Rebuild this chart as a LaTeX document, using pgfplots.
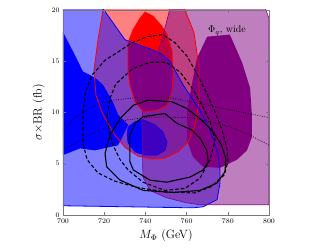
\documentclass[border=0pt]{standalone}
\usepackage{pgfplots}
\usepackage{pgfplotstable}
\pgfplotsset{compat=1.18}
\definecolor{lred}{RGB}{255,128,128}
\definecolor{pur}{RGB}{128,0,128}
\definecolor{frame}{RGB}{120,120,120}

% ---- regions ----
\pgfplotstableread{
x y
719.9 20.6
717.0 17.1
715.0 14.1
716.0 11.7
719.4 9.8
725.2 7.8
730.1 6.6
736.4 5.75
743.2 5.45
749.5 5.55
755.8 6.15
760.7 7.1
764.1 8.8
766.0 11.0
766.0 14.4
763.6 17.8
759.2 20.0
758.5 20.6
}\redouter
\pgfplotstableread{
x y
735.0 11.0
732.5 12.7
731.6 14.0
731.6 16.8
734.0 18.05
737.4 19.2
739.8 19.8
743.7 19.4
748.0 18.4
750.5 17.6
752.9 16.0
753.4 13.7
752.9 12.0
750.5 10.7
745.6 10.2
738.8 10.1
}\redinner
\pgfplotstableread{
x y
699.0 21.0
716.4 21.0
719.9 20.0
730.1 17.1
743.7 16.1
748.5 15.6
751.9 15.0
758.3 12.7
766.5 10.2
771.4 8.3
775.2 6.05
776.2 4.4
776.2 3.1
774.8 1.5
768.0 0.8
763.1 0.7
700.0 0.9
699.0 0.9
}\blueouter
\pgfplotstableread{
x y
699.0 17.85
700.0 17.85
705.0 15.9
709.7 14.0
715.5 13.4
719.4 12.7
724.3 11.0
726.7 9.8
731.6 8.8
728.6 7.5
726.7 6.8
721.8 6.6
715.5 6.3
708.3 6.5
700.0 5.85
699.0 5.85
}\blueinner
\pgfplotstableread{
x y
731.6 8.6
735.0 9.1
738.8 9.3
744.7 8.8
748.5 8.1
750.5 7.1
749.5 6.3
745.6 5.85
739.8 5.85
735.0 6.15
731.6 7.0
731.1 7.8
}\blueisland
\pgfplotstableread{
x y
752.5 20.6
748.0 17.1
743.2 14.1
739.8 11.7
738.3 9.5
738.8 3.7
742.2 2.4
750.0 1.7
759.7 1.2
766.5 1.0
800.0 1.0
800.0 19.2
798.5 20.0
798.0 20.6
}\purouter
\pgfplotstableread{
x y
760.2 7.3
760.2 10.2
765.0 15.3
770.0 17.4
781.0 17.6
786.9 14.9
790.8 12.4
791.7 9.8
791.7 7.6
789.3 6.3
784.5 5.4
776.2 4.6
768.0 4.7
763.0 5.7
}\purinner
% ---- contours ----
\pgfplotstableread{
x y
741.4 11.2
752.8 11.05
760.0 10.4
766.5 9.4
773.0 8.1
777.0 6.8
779.1 5.5
778.6 4.2
774.6 3.1
766.5 2.4
753.5 2.2
739.0 2.4
727.7 3.4
721.2 4.7
720.4 6.0
722.8 7.8
727.7 9.4
734.1 10.7
}\solidA
\pgfplotstableread{
x y
739.0 9.6
749.5 9.9
755.2 8.95
762.5 8.3
766.5 7.5
769.8 6.3
770.5 5.2
768.1 4.4
761.7 3.7
750.3 3.2
742.2 3.4
734.1 4.4
732.5 5.2
732.5 7.8
735.0 8.95
}\solidB
\pgfplotstableread{
x y
709.7 9.95
711.2 12.2
714.1 13.65
720.4 15.1
726.7 15.9
733.5 16.8
740.8 17.4
748.5 17.6
754.4 16.8
760.2 15.5
766.0 13.4
770.4 11.6
773.8 10.05
777.2 8.3
779.6 6.5
780.1 5.2
778.2 3.9
772.3 2.8
764.1 2.15
749.5 2.25
735.9 2.7
725.2 3.3
717.0 4.1
711.7 5.4
709.7 7.0
}\dashA
\pgfplotstableread{
x y
721.4 9.75
722.8 11.4
725.7 12.8
734.0 14.3
742.2 14.9
750.0 14.9
756.8 13.95
762.6 12.4
767.5 10.7
771.4 9.1
773.8 7.3
771.4 5.4
766.5 3.6
759.2 2.6
749.5 2.4
738.8 3.2
731.6 4.4
727.7 5.4
724.3 6.8
722.3 8.3
}\dashB
\pgfplotstableread{
x y
700.0 8.3
705.8 9.5
714.6 10.6
724.3 11.2
737.4 11.5
750.0 11.5
766.0 10.9
782.5 10.2
800.0 9.5
}\dotA
\pgfplotstableread{
x y
700.0 6.3
708.3 7.3
715.5 8.1
722.8 8.8
731.6 9.3
742.2 9.55
751.9 9.55
761.7 9.5
771.4 9.1
781.1 8.6
790.8 7.8
800.0 6.8
}\dotB

\begin{document}
\begin{tikzpicture}
\begin{axis}[
  scale only axis, width=206bp, height=205bp,
  xmin=700, xmax=800, ymin=0, ymax=20,
  xtick={700,720,740,760,780,800}, ytick={0,5,10,15,20},
  xtick pos=both, ytick pos=both,
  tick align=inside, major tick length=3bp,
  axis line style={frame, line width=0.6pt},
  tick style={frame, line width=0.5pt},
  tick label style={font=\scriptsize},
  label style={font=\large},
  xlabel={$M_\Phi$ (GeV)},
  ylabel={$\sigma\times$BR (fb)},
  axis on top,
  /pgf/number format/set thousands separator={},
]
\coordinate (sw) at (rel axis cs:0,0);
% fills
\addplot[draw=none, fill=lred] table {\redouter} -- cycle;
\addplot[draw=none, fill=red] table {\redinner} -- cycle;
\addplot[draw=none, fill=blue, fill opacity=0.5] table {\blueouter} -- cycle;
\addplot[draw=none, fill=blue] table {\blueinner} -- cycle;
\addplot[draw=none, fill=blue] table {\blueisland} -- cycle;
\addplot[draw=none, fill=pur, fill opacity=0.5] table {\purouter} -- cycle;
\addplot[draw=none, fill=pur] table {\purinner} -- cycle;
% outlines
\addplot[red, line width=0.8pt] table {\redouter};
\addplot[red, line width=0.8pt] table {\redinner} -- cycle;
\addplot[blue, line width=0.8pt] table {\blueouter};
\addplot[blue, line width=0.6pt] table {\blueisland} -- cycle;
\addplot[pur, line width=0.6pt] table {\purouter};
% contours
\addplot[black, line width=1.1pt] table {\solidA} -- cycle;
\addplot[black, line width=1.1pt] table {\solidB} -- cycle;
\addplot[black, line width=1.1pt, dash pattern=on 3.5pt off 2.2pt] table {\dashA} -- cycle;
\addplot[black, line width=1.1pt, dash pattern=on 3.5pt off 2.2pt] table {\dashB} -- cycle;
\addplot[black, line width=0.7pt, dash pattern=on 0.8pt off 1.6pt] table {\dotA};
\addplot[black, line width=0.7pt, dash pattern=on 0.8pt off 1.6pt] table {\dotB};
\node[font=\normalsize] at (axis cs:779.6,18.0) {$\Phi_q$, wide};
\end{axis}
\path ([shift={(-63bp,-34bp)}]sw) rectangle ++(332bp,249bp);
\end{tikzpicture}
\end{document}
